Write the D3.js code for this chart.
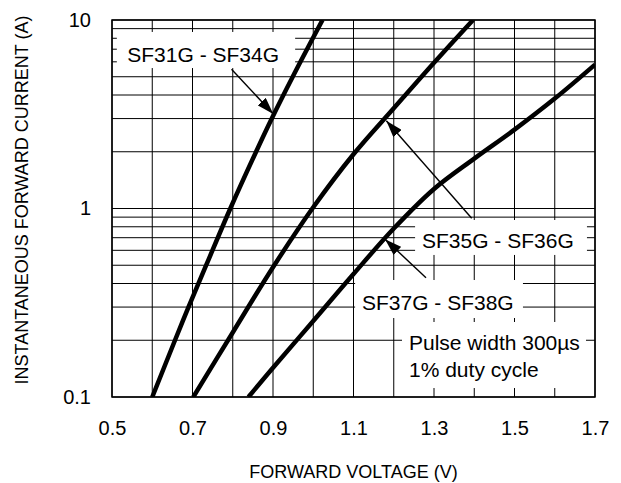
<!DOCTYPE html>
<html>
<head>
<meta charset="utf-8">
<script src="https://cdn.jsdelivr.net/npm/d3@7"></script>
<style>
  html, body { margin: 0; padding: 0; background: #fff; }
  svg { display: block; font-family: "Liberation Sans", Arial, sans-serif; }
</style>
</head>
<body>
<svg id="chart" width="621" height="483"></svg>
<script>
// tick labels
var xTickLabels = [0.5, 0.7, 0.9, 1.1, 1.3, 1.5, 1.7]
var yTickLabels = [0.1, 1, 10]

// curves, [voltage V, current A]
var sf31_34 = [[0.600,0.1],[0.6565,0.2],[0.690,0.3],[0.734,0.5],[0.794,1],[0.858,2],[0.897,3],[0.949,5],[1.023,10]]
var sf35_36 = [[0.702,0.1],[0.800,0.220],[0.900,0.488],[1.000,1.015],[1.100,1.94],[1.200,3.40],[1.300,5.93],[1.397,10]]
var sf37_38 = [[0.839,0.1],[0.900,0.143],[1.000,0.253],[1.100,0.449],[1.200,0.783],[1.300,1.27],[1.400,1.84],[1.500,2.62],[1.600,3.83],[1.700,5.8]]

var svg = d3.select('#chart')
var plotL = 112, plotT = 20, plotR = 595, plotB = 397

var x = d3.scaleLinear().domain([0.5, 1.7]).range([plotL, plotR])
var y = d3.scaleLog().domain([0.1, 10]).range([plotB, plotT])

// grid
var grid = svg.append('g').attr('stroke', '#000').attr('stroke-width', 1)
d3.range(5, 18).forEach(function(d){
    var v = d / 10
    grid.append('line').attr('x1', x(v)).attr('x2', x(v)).attr('y1', plotT).attr('y2', plotB)
})
y.ticks().forEach(function(d){
    grid.append('line').attr('x1', plotL).attr('x2', plotR).attr('y1', y(d)).attr('y2', y(d))
})

// white label boxes, given in data units [v1, i1, v2, i2]
var boxes = [
    [0.512, 8.64, 0.955, 5.56],
    [1.253, 0.869, 1.680, 0.567],
    [1.104, 0.4175, 1.521, 0.2625],
    [1.2205, 0.25, 1.6776, 0.1116]
]
boxes.forEach(function(b){
    svg.append('rect')
        .attr('x', x(b[0])).attr('y', y(b[1]))
        .attr('width', x(b[2]) - x(b[0])).attr('height', y(b[3]) - y(b[1]))
        .attr('fill', '#fff')
})

// frame
svg.append('rect')
    .attr('x', plotL).attr('y', plotT)
    .attr('width', plotR - plotL).attr('height', plotB - plotT)
    .attr('fill', 'none').attr('stroke', '#000').attr('stroke-width', 1.5)

// axes (labels only)
svg.append('g')
    .attr('transform', 'translate(0,' + plotB + ')')
    .call(d3.axisBottom(x).tickValues(xTickLabels).tickSize(0).tickPadding(24).tickFormat(d3.format('.1f')))
svg.append('g')
    .attr('transform', 'translate(' + plotL + ',0)')
    .call(d3.axisLeft(y).tickValues(yTickLabels).tickSize(0).tickPadding(21).tickFormat(function(d){ return d < 1 ? '0.1' : String(d) }))
svg.selectAll('.domain').remove()
svg.selectAll('.tick text')
    .attr('font-family', '"Liberation Sans", Arial, sans-serif')
    .attr('font-size', '20px')
    .attr('fill', '#000')

// axis titles
svg.append('text')
    .attr('x', (plotL + plotR) / 2).attr('y', 477.5)
    .attr('text-anchor', 'middle').attr('font-size', '18px')
    .text('FORWARD VOLTAGE (V)')
svg.append('text')
    .attr('transform', 'translate(28,200) rotate(-90)')
    .attr('text-anchor', 'middle').attr('font-size', '18px')
    .text('INSTANTANEOUS FORWARD CURRENT (A)')

// curves
svg.append('clipPath').attr('id', 'plot-clip')
    .append('rect').attr('x', plotL).attr('y', plotT).attr('width', plotR - plotL).attr('height', plotB - plotT)
var curveLine = d3.line()
    .x(function(d){ return x(d[0]) })
    .y(function(d){ return y(d[1]) })
    .curve(d3.curveCatmullRom.alpha(0.5))
;[sf31_34, sf35_36, sf37_38].forEach(function(s){
    svg.append('path')
        .datum(s)
        .attr('d', curveLine)
        .attr('clip-path', 'url(#plot-clip)')
        .attr('fill', 'none').attr('stroke', '#000').attr('stroke-width', 4.5)
        .attr('stroke-linejoin', 'round')
})

// arrows
svg.append('defs').append('marker')
    .attr('id', 'head').attr('markerUnits', 'userSpaceOnUse')
    .attr('viewBox', '0 0 17 11').attr('refX', 17).attr('refY', 5.5)
    .attr('markerWidth', 17).attr('markerHeight', 11).attr('orient', 'auto')
    .append('path').attr('d', 'M0,0L17,5.5L0,11Z').attr('fill', '#000')
var arrows = [
    [0.797, 5.48, 0.9007, 3.17],
    [1.3937, 0.887, 1.1815, 2.92],
    [1.2801, 0.4294, 1.1783, 0.6866]
]
arrows.forEach(function(a){
    svg.append('line')
        .attr('x1', x(a[0])).attr('y1', y(a[1]))
        .attr('x2', x(a[2])).attr('y2', y(a[3]))
        .attr('stroke', '#000').attr('stroke-width', 1.4)
        .attr('marker-end', 'url(#head)')
})

// labels
var labels = [
    ['SF31G - SF34G', 0.538, 6.0],
    ['SF35G - SF36G', 1.2702, 0.617],
    ['SF37G - SF38G', 1.1211, 0.2893],
    ['Pulse width 300µs', 1.2379, 0.1776],
    ['1% duty cycle', 1.2379, 0.1277]
]
labels.forEach(function(l){
    svg.append('text')
        .attr('x', x(l[1])).attr('y', y(l[2]))
        .attr('font-size', '21px').attr('fill', '#000')
        .text(l[0])
})
</script>
</body>
</html>
